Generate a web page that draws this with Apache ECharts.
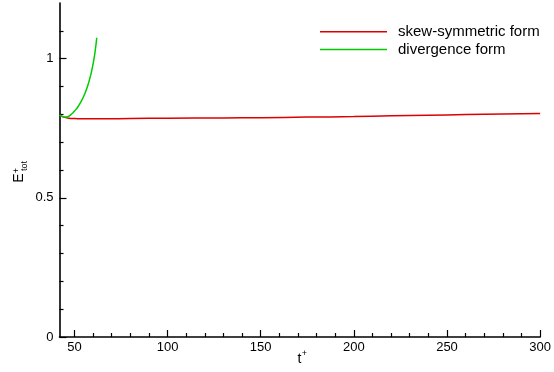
<!DOCTYPE html>
<html>
<head>
<meta charset="utf-8">
<script src="https://cdn.jsdelivr.net/npm/echarts@6/dist/echarts.min.js"></script>
<style>
  html, body { margin: 0; padding: 0; background: #fff; }
  #chart { width: 554px; height: 372px; }
</style>
</head>
<body>
<div id="chart"></div>
<script>
// Total energy history for the two convective-term discretisations
const skewT   = [42, 44, 47, 50, 55, 65, 80, 100, 130, 150, 175, 200, 220, 240, 260, 280, 300];
const skewE   = [0.797, 0.791, 0.786, 0.785, 0.784, 0.784, 0.785, 0.786, 0.787, 0.788, 0.790, 0.792, 0.795, 0.797, 0.799, 0.801, 0.803];
const divT    = [42, 43, 44, 45, 46, 47, 48, 49, 50, 51, 52, 53, 54, 55, 56, 57, 58, 59, 60, 61, 62];
const divE    = [0.798, 0.794, 0.791, 0.790, 0.791, 0.793, 0.798, 0.804, 0.811, 0.819, 0.828, 0.839, 0.851, 0.865, 0.881, 0.900, 0.922, 0.948, 0.980, 1.020, 1.075];

const xMajor  = [50, 100, 150, 200, 250, 300];
const xMinor  = [60, 70, 80, 90, 110, 120, 130, 140, 160, 170, 180, 190, 210, 220, 230, 240, 260, 270, 280, 290];
const yMajor  = [0, 0.5, 1];
const yMinor  = [0.1, 0.2, 0.3, 0.4, 0.6, 0.7, 0.8, 0.9, 1.1];

const zip = (a, b) => a.map((v, i) => [v, b[i]]);
const FONT = 'Liberation Sans, Arial, sans-serif';
const GRID = { left: 59.5, right: 13, top: 3, bottom: 35 };

const chart = echarts.init(document.getElementById('chart'), null, { renderer: 'canvas' });

const baseX = {
  type: 'value', min: 42, max: 300, gridIndex: 0,
  splitLine: { show: false }
};
const baseY = {
  type: 'value', min: 0, max: 1.2, gridIndex: 0,
  splitLine: { show: false }
};

chart.setOption({
  animation: false,
  backgroundColor: '#fff',
  grid: GRID,
  legend: {
    orient: 'vertical',
    left: 320, top: 24,
    padding: 0,
    icon: 'rect',
    itemWidth: 67, itemHeight: 1.5, itemGap: 2,
    textStyle: { fontFamily: FONT, fontSize: 15, lineHeight: 15.6, color: '#000', padding: [0, 0, 0, 6] },
    data: ['skew-symmetric form', 'divergence form']
  },
  xAxis: [
    Object.assign({}, baseX, {
      axisLine: { lineStyle: { color: '#000', width: 1.6 } },
      axisTick: { inside: true, length: 7, customValues: xMajor, lineStyle: { color: '#000', width: 1.2 } },
      axisLabel: { customValues: xMajor, color: '#000', fontFamily: FONT, fontSize: 13, margin: 4 }
    }),
    Object.assign({}, baseX, {
      position: 'bottom',
      axisLine: { show: false },
      axisTick: { inside: true, length: 4, customValues: xMinor, lineStyle: { color: '#000', width: 1.2 } },
      axisLabel: { show: false }
    })
  ],
  yAxis: [
    Object.assign({}, baseY, {
      axisLine: { show: true, lineStyle: { color: '#000', width: 1.6 } },
      axisTick: { show: true, inside: true, length: 7, customValues: yMajor, lineStyle: { color: '#000', width: 1.2 } },
      axisLabel: {
        customValues: yMajor, color: '#000', fontFamily: FONT, fontSize: 13, margin: 6,
        formatter: v => String(v)
      }
    }),
    Object.assign({}, baseY, {
      position: 'left',
      axisLine: { show: false },
      axisTick: { show: true, inside: true, length: 4, customValues: yMinor, lineStyle: { color: '#000', width: 1.2 } },
      axisLabel: { show: false }
    })
  ],
  series: [
    {
      name: 'skew-symmetric form', type: 'line', xAxisIndex: 0, yAxisIndex: 0,
      data: zip(skewT, skewE), smooth: true, symbol: 'none',
      lineStyle: { color: '#dd0000', width: 1.5 }, itemStyle: { color: '#dd0000' }
    },
    {
      name: 'divergence form', type: 'line', xAxisIndex: 0, yAxisIndex: 0,
      data: zip(divT, divE), smooth: true, symbol: 'none',
      lineStyle: { color: '#00cc00', width: 1.5 }, itemStyle: { color: '#00cc00' }
    }
  ],
  graphic: [
    // y-axis title: E with superscript + and subscript tot, reading upward
    { type: 'text', x: 26, y: 178, rotation: Math.PI / 2,
      style: { text: 'E', font: '14px ' + FONT, fill: '#000', align: 'center', verticalAlign: 'bottom' } },
    { type: 'text', x: 21, y: 170.5, rotation: Math.PI / 2,
      style: { text: '+', font: '9px ' + FONT, fill: '#000', align: 'center', verticalAlign: 'bottom' } },
    { type: 'text', x: 29.5, y: 166, rotation: Math.PI / 2,
      style: { text: 'tot', font: '9px ' + FONT, fill: '#000', align: 'center', verticalAlign: 'bottom' } },
    // x-axis title: t with superscript +
    { type: 'text', x: 299.5, y: 366,
      style: { text: 't', font: '14px ' + FONT, fill: '#000', align: 'center', verticalAlign: 'bottom' } },
    { type: 'text', x: 304.5, y: 358,
      style: { text: '+', font: '9px ' + FONT, fill: '#000', align: 'center', verticalAlign: 'bottom' } }
  ]
});
</script>
</body>
</html>
